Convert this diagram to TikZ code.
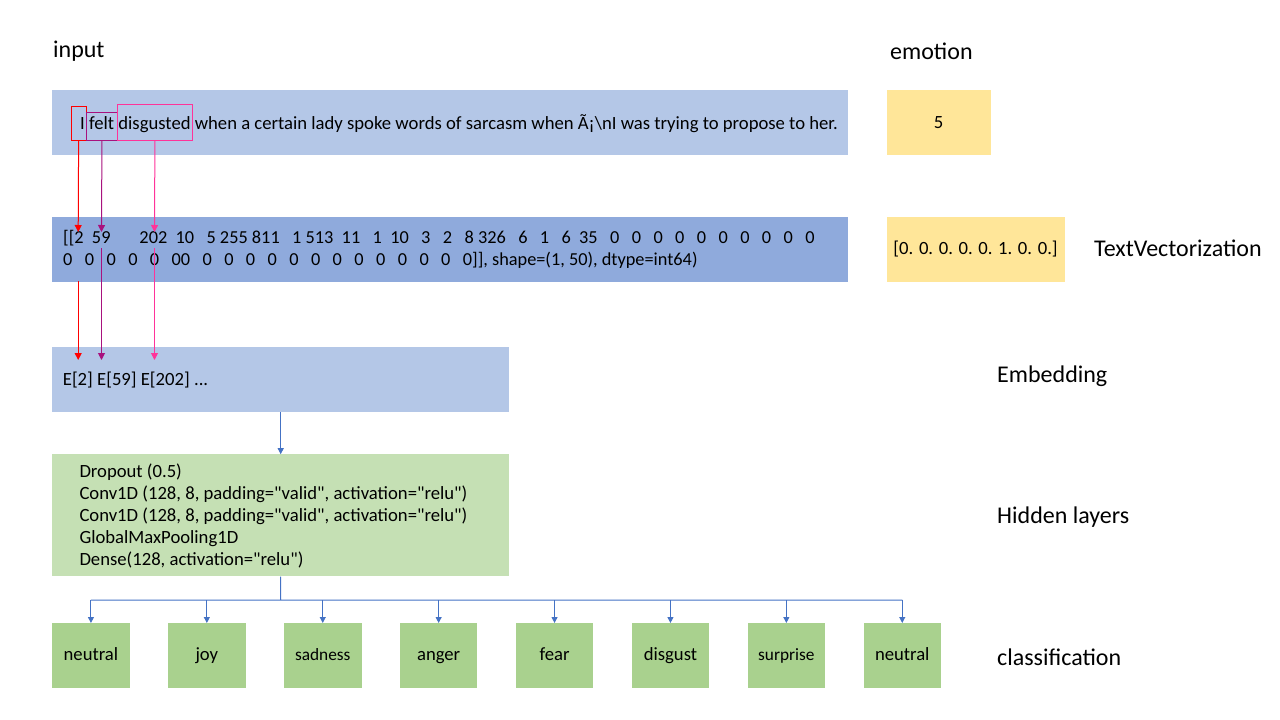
\documentclass[tikz,border=0pt]{standalone}
\usepackage{fontspec}
\setmainfont{Carlito}[Ligatures=TeXOff]
\usetikzlibrary{arrows.meta,positioning}

\definecolor{lightblue}{HTML}{B4C7E7}
\definecolor{midblue}{HTML}{8FAADC}
\definecolor{lightyellow}{HTML}{FFE699}
\definecolor{lightgreen}{HTML}{C5E0B4}
\definecolor{midgreen}{HTML}{A9D18E}
\definecolor{linkblue}{HTML}{4472C4}
\definecolor{markred}{HTML}{FF0000}
\definecolor{markpurple}{HTML}{A8127E}
\definecolor{markpink}{HTML}{FF3399}

\newcommand{\fbody}{\fontsize{18.67}{22}\selectfont}
\newcommand{\fvec}{\fontsize{18.3}{22}\selectfont}
\newcommand{\fhead}{\fontsize{24}{28}\selectfont}
\newcommand{\fsmall}{\fontsize{17.3}{20}\selectfont}

\begin{document}
\begin{tikzpicture}[x=1pt, y=-1pt,
  layerbox/.style={rectangle, inner sep=0pt, minimum height=65pt},
  classbox/.style={layerbox, fill=midgreen, minimum width=77.5pt, font=\fbody, text height=13pt, text depth=4pt},
  wordbox/.style={rectangle, draw, line width=1pt, inner sep=0pt, anchor=north west},
  heading/.style={anchor=west, inner sep=0pt, font=\fhead},
  txt/.style={anchor=west, inner sep=0pt, align=left, font=\fbody},
  flow/.style={color=linkblue, line width=1pt, -{Triangle[width=6pt,length=6pt]}},
  wordarrow/.style={line width=1pt, -{Triangle[width=7pt,length=7pt]}}]
  \useasboundingbox (0,0) rectangle (1280,720);

  \node [heading] (h_{input}) at (53,51) {input};
  \node [heading] (h_{emotion}) at (890,51) {emotion};
  \node [heading] (h_{vec}) at (1094,248) {TextVectorization};
  \node [heading] (h_{emb}) at (997,376) {Embedding};
  \node [heading] (h_{hid}) at (997,517) {Hidden layers};
  \node [heading] (h_{class}) at (997,657) {classification};

  \node [layerbox, fill=lightblue, minimum width=796pt, anchor=north west] (l_{input}) at (52,90) {};
  \node [layerbox, fill=lightyellow, minimum width=104pt, font=\fbody] [right=38pt of l_{input}] (l_{emotion}) {5};
  \node [layerbox, fill=midblue, minimum width=796pt] [below=61pt of l_{input}] (l_{vec}) {};
  \node [layerbox, fill=lightyellow, minimum width=178pt, font=\fbody] [right=38pt of l_{vec}] (l_{onehot}) {[0. 0. 0. 0. 0. 1. 0. 0.]};
  \node [layerbox, fill=lightblue, minimum width=457pt] [below=65pt of l_{vec}.south west, anchor=north west] (l_{emb}) {};
  \node [layerbox, fill=lightgreen, minimum width=457pt, minimum height=122pt] [below=42pt of l_{emb}] (l_{hid}) {};

  \node [txt, anchor=base west] (t_{input}) at (80,129.3) {I felt disgusted when a certain lady spoke words of sarcasm when Ã¡\textbackslash nI was trying to propose to her.};
  \node [txt, font=\fvec] (t_{vec}) at (63,249) {[[2~~59~~~~~~~202~~10~~~5 255 811~~~1 513~~11~~~1~~10~~~3~~~2~~~8 326~~~6~~~1~~~6~~35~~~0~~~0~~~0~~~0~~~0~~~0~~~0~~~0~~~0~~~0\\0~~~0~~~0~~~0~~~0~~~00~~~0~~~0~~~0~~~0~~~0~~~0~~~0~~~0~~~0~~~0~~~0~~~0~~~0]], shape=(1, 50), dtype=int64)};
  \node [txt, anchor=base west] (t_{emb}) at (62.7,385) {E[2] E[59] E[202] ...};
  \node [txt] (t_{hid}) at (79.3,516) {Dropout (0.5)\\Conv1D (128, 8, padding="valid", activation="relu")\\Conv1D (128, 8, padding="valid", activation="relu")\\GlobalMaxPooling1D\\Dense(128, activation="relu")};

  \node [wordbox, draw=markred, minimum width=15pt, minimum height=34.3pt] (w_1) at (70.7,105.7) {};
  \node [wordbox, draw=markpurple, minimum width=31.6pt, minimum height=27.7pt] (w_2) at (85.7,112.3) {};
  \node [wordbox, draw=markpink, minimum width=74.4pt, minimum height=35.7pt] (w_3) at (117.3,104.3) {};

  \node [classbox, anchor=north west] (c_1) at (52,623) {neutral};
  \node [classbox] [right=38pt of c_1] (c_2) {joy};
  \node [classbox, font=\fsmall] [right=38pt of c_2] (c_3) {sadness};
  \node [classbox] [right=38pt of c_3] (c_4) {anger};
  \node [classbox] [right=38pt of c_4] (c_5) {fear};
  \node [classbox] [right=38pt of c_5] (c_6) {disgust};
  \node [classbox, font=\fsmall] [right=38pt of c_6] (c_7) {surprise};
  \node [classbox] [right=38pt of c_7] (c_8) {neutral};

  \coordinate (v_1) at (78.2,232);
  \coordinate (v_2) at (101.5,232);
  \coordinate (v_3) at (154.5,232);
  \coordinate (s_1) at (78.2,281);
  \coordinate (s_2) at (101.5,248);
  \coordinate (s_3) at (154.5,248);
  \coordinate (e_1) at (78.2,360);
  \coordinate (e_2) at (101.5,360);
  \coordinate (e_3) at (154.5,360);
  \coordinate (bus) at (280.5,600);

  \draw [wordarrow, markred] (w_1) -- (v_1);
  \draw [wordarrow, markpurple] (w_2) -- (v_2);
  \draw [wordarrow, markpink] (w_3) -- (v_3);
  \draw [wordarrow, markred] (s_1) -- (e_1);
  \draw [wordarrow, markpurple] (s_2) -- (e_2);
  \draw [wordarrow, markpink] (s_3) -- (e_3);

  \draw [linkblue, line width=1pt] (l_{hid}) -- (bus) (bus -| c_1) -- (bus -| c_8);
    \path [flow]
    (l_{emb}) edge (l_{hid})
    (bus -| c_1) edge (c_1)
    (bus -| c_2) edge (c_2)
    (bus -| c_3) edge (c_3)
    (bus -| c_4) edge (c_4)
    (bus -| c_5) edge (c_5)
    (bus -| c_6) edge (c_6)
    (bus -| c_7) edge (c_7)
    (bus -| c_8) edge (c_8);
\end{tikzpicture}
\end{document}
